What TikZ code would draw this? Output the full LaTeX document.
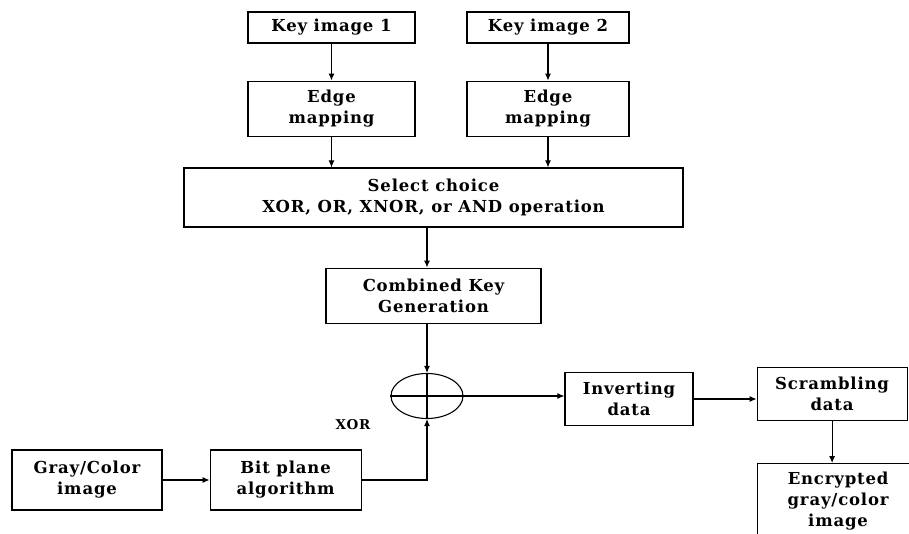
\documentclass[tikz,border=0pt]{standalone}
\usepackage{fontspec}
\setmainfont{DejaVu Serif}[LetterSpace=5]
\usetikzlibrary{shapes.geometric, positioning, arrows.meta}

\begin{document}
\begin{tikzpicture}[
  x=1pt, y=1pt,
  node distance=37pt and 47pt,
  box/.style={rectangle, draw, line width=1.1pt, inner sep=2pt,
              minimum height=55pt, align=center,
              font=\bfseries\fontsize{16.5}{21}\selectfont},
  arr/.style={-{Latex[length=7pt,width=6pt]}, line width=1.1pt},
  lin/.style={line width=1.1pt},
]
\clip (0,0) rectangle (909,-534);
% Fila superior: imagenes clave
\node[box, minimum width=167pt, minimum height=31pt] (key1) at (331.5,-27.5) {Key image 1};
\node[box, minimum width=162pt, minimum height=31pt] (key2) at (548,-27.5)   {Key image 2};
\node[box, minimum width=167pt, below=37pt of key1] (edge1) {Edge\\mapping};
\node[box, minimum width=162pt, below=37pt of key2] (edge2) {Edge\\mapping};
% Seleccion de operacion y clave combinada
\node[box, minimum width=499pt, minimum height=59pt] (select) at (433.5,-197.5)
  {Select choice\\XOR, OR, XNOR, or AND operation};
\node[box, minimum width=215pt, below=40pt of select] (comb) {Combined Key\\Generation};
% Operador XOR
\node[ellipse, draw, lin, minimum width=72pt, minimum height=45pt] (xor) at (427,-396) {};
\draw[lin] (xor.west) -- (xor.east);
\draw[lin] (xor.north) -- (xor.south);
\node[font=\bfseries\fontsize{13.5}{15}\selectfont] (xorlab) at (353,-425) {XOR};
% Fila inferior izquierda
\node[box, minimum width=150pt, minimum height=60pt] (gray) at (87,-480) {Gray/Color\\image};
\node[box, minimum width=151pt, minimum height=60pt, right=47pt of gray] (bit) {Bit plane\\algorithm};
% Fila derecha
\node[box, minimum width=128pt, minimum height=53pt] (inv) at (629,-399) {Inverting\\data};
\node[box, minimum width=150pt, minimum height=53pt, right=63pt of inv, yshift=5pt] (scr) {Scrambling\\data};
\node[box, minimum width=162pt, minimum height=74pt, below=42pt of scr.south west,
      anchor=north west] (enc) {Encrypted\\gray/color\\image};
% Flechas
\draw[arr] (key1) -- (edge1);
\draw[arr] (key2) -- (edge2);
\draw[arr] (edge1.south) -- (edge1.south |- select.north);
\draw[arr] (edge2.south) -- (edge2.south |- select.north);
\draw[arr] (select.south -| xor) -- (comb.north -| xor);
\draw[arr] (comb.south -| xor) -- (xor.north);
\draw[arr] (gray) -- (bit);
\draw[arr] (bit.east) -| (xor.south);
\draw[arr] (xor.east) -- (inv.west |- xor.east);
\draw[arr] (inv.east) -- (scr.west |- inv.east);
\draw[arr] (scr.south) -- (scr.south |- enc.north);
\end{tikzpicture}
\end{document}
